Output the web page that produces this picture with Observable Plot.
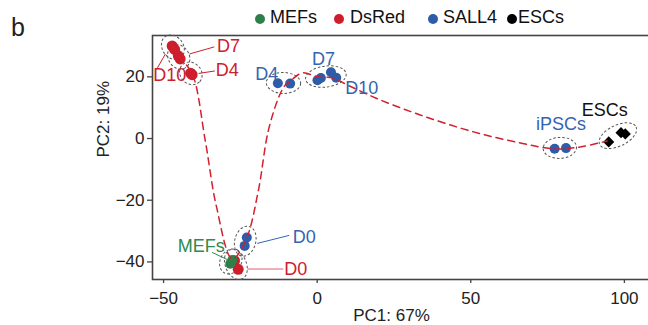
<!DOCTYPE html>
<html>
<head>
<meta charset="utf-8">
<script src="https://cdn.jsdelivr.net/npm/d3@7"></script>
<script src="https://cdn.jsdelivr.net/npm/@observablehq/plot@0.6"></script>
<style>
  body { margin: 0; background: #fff; font-family: "Liberation Sans", Arial, sans-serif; }
  #wrap { position: relative; width: 648px; height: 325px; overflow: hidden; }
  #tag { position: absolute; left: 11px; top: 13px; font-size: 25px; color: #222; }
  #legend { position: relative; height: 28px; font-size: 18px; color: #111; }
  #legend .dot { position: absolute; width: 10px; height: 10px; border-radius: 50%; top: 14px; }
  #legend .lab { position: absolute; top: 8px; line-height: 1; white-space: nowrap; }
</style>
</head>
<body>
<div id="wrap">
  <div id="legend"></div>
  <div id="chart"></div>
  <div id="tag">b</div>
</div>
<script>
// ---- data ----
const legendLabels = ["MEFs", "DsRed", "SALL4", "ESCs"];
const legendColors = ["#2e8049", "#cc1f2b", "#2d5ca8", "#000000"];

const mefsPC1 = [-28.3, -27.6];
const mefsPC2 = [-40.6, -39.4];

const dsredStage = ["D10", "D10", "D7", "D7", "D4", "D4", "D0", "D0"];
const dsredPC1 = [-47.2, -46.4, -45.2, -44.6, -41.2, -40.7, -26.9, -25.7];
const dsredPC2 = [30.0, 28.9, 26.8, 25.8, 21.2, 20.7, -39.6, -42.4];

const sall4Stage = ["D0", "D0", "D4", "D4", "D7", "D7", "D10", "D10", "iPSCs", "iPSCs"];
const sall4PC1 = [-22.9, -23.6, -12.8, -8.8, 0.1, 1.2, 4.5, 6.2, 77.3, 81.0];
const sall4PC2 = [-32.1, -34.8, 17.9, 17.8, 18.9, 19.6, 21.5, 19.7, -3.3, -3.1];

const escsPC1 = [94.9, 98.9, 100.3];
const escsPC2 = [-1.1, 1.9, 1.5];

// trajectory (dashed red curve)
const pathPC1 = [-47.15, -44.54, -40.64, -36.41, -32.83, -27.63, -23.08, -19.17, -15.92, -12.34, -10.38, -8.75, -4.85, 0.36, 5.24, 9.80, 20.54, 33.55, 49.82, 66.09, 77.48, 85.61, 94.40];
const pathPC2 = [30.02, 26.13, 20.94, -0.78, -21.85, -39.03, -32.55, -16.99, 2.46, 13.81, 17.37, 18.67, 21.26, 19.97, 19.64, 17.37, 12.51, 7.65, 2.46, -1.43, -3.37, -2.72, -0.78];

// annotation labels
const labelText = ["D7", "D10", "D4", "D4", "D7", "D10", "iPSCs", "ESCs", "MEFs", "D0", "D0"];
const labelPC1 = [-28.9, -48.0, -29.3, -16.4, 2.1, 14.5, 79.4, 93.6, -37.7, -4.2, -7.0];
const labelPC2 = [30.0, 20.6, 22.0, 20.9, 25.7, 16.4, 4.6, 9.3, -34.8, -31.9, -42.3];
const labelColor = ["#cc2030", "#cc2030", "#cc2030", "#3364b2", "#3364b2", "#3364b2", "#3364b2", "#111111", "#2e8a4e", "#3364b2", "#cc2030"];

// leader lines
const leadX1 = [-41.6, -49.4, -38.6, -28.3, -19.5, -22.7];
const leadY1 = [27.4, 27.4, 21.1, -39.7, -34.0, -42.3];
const leadX2 = [-33.5, -52.0, -33.3, -34.2, -9.1, -11.0];
const leadY2 = [29.7, 22.9, 21.9, -36.9, -31.4, -42.3];
const leadColor = ["#cc2030", "#cc2030", "#cc2030", "#2e8a4e", "#3364b2", "#e06070"];

// ---- tables ----
const mefs = mefsPC1.map((x, i) => ({series: "MEFs", stage: "MEFs", pc1: x, pc2: mefsPC2[i]}));
const dsred = dsredPC1.map((x, i) => ({series: "DsRed", stage: dsredStage[i], pc1: x, pc2: dsredPC2[i]}));
const sall4 = sall4PC1.map((x, i) => ({series: "SALL4", stage: sall4Stage[i], pc1: x, pc2: sall4PC2[i]}));
const escs = escsPC1.map((x, i) => ({series: "ESCs", stage: "ESCs", pc1: x, pc2: escsPC2[i]}));
const allPts = [...mefs, ...dsred, ...sall4, ...escs];
const path = pathPC1.map((x, i) => ({pc1: x, pc2: pathPC2[i]}));
const labels = labelText.map((t, i) => ({t, x: labelPC1[i], y: labelPC2[i], c: labelColor[i]}));
const leads = leadX1.map((x, i) => ({x1: x, y1: leadY1[i], x2: leadX2[i], y2: leadY2[i], c: leadColor[i]}));

const ellipseGroups = [
  ["DsRed", "D10"], ["DsRed", "D7"], ["DsRed", "D4"], ["DsRed", "D0"], ["MEFs", "MEFs"],
  ["SALL4", "D0"], ["SALL4", "D4"], ["SALL4", "D7", "D10"], ["SALL4", "iPSCs"], ["ESCs", "ESCs"]
];

function ellipses(index, scales) {
  const g = d3.create("svg:g")
    .attr("fill", "none").attr("stroke", "#555")
    .attr("stroke-width", 1).attr("stroke-dasharray", "2.5,2");
  for (const grp of ellipseGroups) {
    const pts = allPts.filter(p => p.series === grp[0] && grp.slice(1).includes(p.stage))
      .map(p => [scales.x(p.pc1), scales.y(p.pc2)]);
    const cx = d3.mean(pts, p => p[0]), cy = d3.mean(pts, p => p[1]);
    let best = 0, a = pts[0], b = pts[0];
    for (let i = 0; i < pts.length; i++) for (let j = i + 1; j < pts.length; j++) {
      const d = Math.hypot(pts[i][0] - pts[j][0], pts[i][1] - pts[j][1]);
      if (d > best) { best = d; a = pts[i]; b = pts[j]; }
    }
    const ang = Math.atan2(b[1] - a[1], b[0] - a[0]) * 180 / Math.PI;
    g.append("ellipse").attr("cx", cx).attr("cy", cy)
      .attr("rx", best / 2 + 11).attr("ry", 10.5)
      .attr("transform", `rotate(${ang} ${cx} ${cy})`);
  }
  return g.node();
}

// ---- legend ----
const legendDotX = [260, 339, 433, 512];
const legendTextX = [270, 350, 443, 518];
const leg = document.getElementById("legend");
legendLabels.forEach((l, i) => {
  const d = document.createElement("div");
  d.className = "dot"; d.style.background = legendColors[i]; d.style.left = (legendDotX[i] - 5) + "px";
  leg.appendChild(d);
  const t = document.createElement("div");
  t.className = "lab"; t.textContent = l; t.style.left = legendTextX[i] + "px";
  leg.appendChild(t);
});

const minus = d => d < 0 ? "\u2212" + Math.abs(d) : String(d);

const chart = Plot.plot({
  width: 648,
  height: 297,
  marginTop: 7,
  marginBottom: 46,
  marginLeft: 152,
  marginRight: -2,
  x: {domain: [-53.6, 108.5]},
  y: {domain: [-45.7, 33.4]},
  style: {fontFamily: '"Liberation Sans", Arial, sans-serif', fontSize: "17px", color: "#222", background: "transparent"},
  marks: [
    Plot.axisX({ticks: [-50, 0, 50, 100], tickFormat: minus, tickSize: 4, tickPadding: 8, label: null, fontSize: 17, stroke: "#444", strokeWidth: 1.3}),
    Plot.axisY({ticks: [-40, -20, 0, 20], tickFormat: minus, tickSize: 5, tickPadding: 3, label: null, fontSize: 17, stroke: "#444", strokeWidth: 1.3}),
    Plot.frame({stroke: "#444", strokeWidth: 1.6}),
    ellipses,
    Plot.dot(dsred, {x: "pc1", y: "pc2", r: 5.5, fill: "#cc1f2b"}),
    Plot.dot(mefs, {x: "pc1", y: "pc2", r: 5, fill: "#2e8049"}),
    Plot.dot(sall4, {x: "pc1", y: "pc2", r: 5, fill: "#2d5ca8"}),
    Plot.dot(escs, {x: "pc1", y: "pc2", r: 5, symbol: "diamond2", fill: "#000", stroke: "none"}),
    Plot.line(path, {x: "pc1", y: "pc2", curve: "catmull-rom", stroke: "#d2202e", strokeWidth: 1.5, strokeDasharray: "7,5"}),
    Plot.link(leads, {x1: "x1", y1: "y1", x2: "x2", y2: "y2", stroke: "c", strokeWidth: 1}),
    Plot.text(labels, {x: "x", y: "y", text: "t", fill: "c", fontSize: 18}),
    Plot.text(["PC1: 67%"], {frameAnchor: "bottom", lineAnchor: "middle", dy: 36, dx: -10, fontSize: 17, fill: "#222"}),
    Plot.text(["PC2: 19%"], {frameAnchor: "left", lineAnchor: "middle", rotate: -90, dx: -49, fontSize: 17, fill: "#222"})
  ]
});
document.getElementById("chart").appendChild(chart);
</script>
</body>
</html>
